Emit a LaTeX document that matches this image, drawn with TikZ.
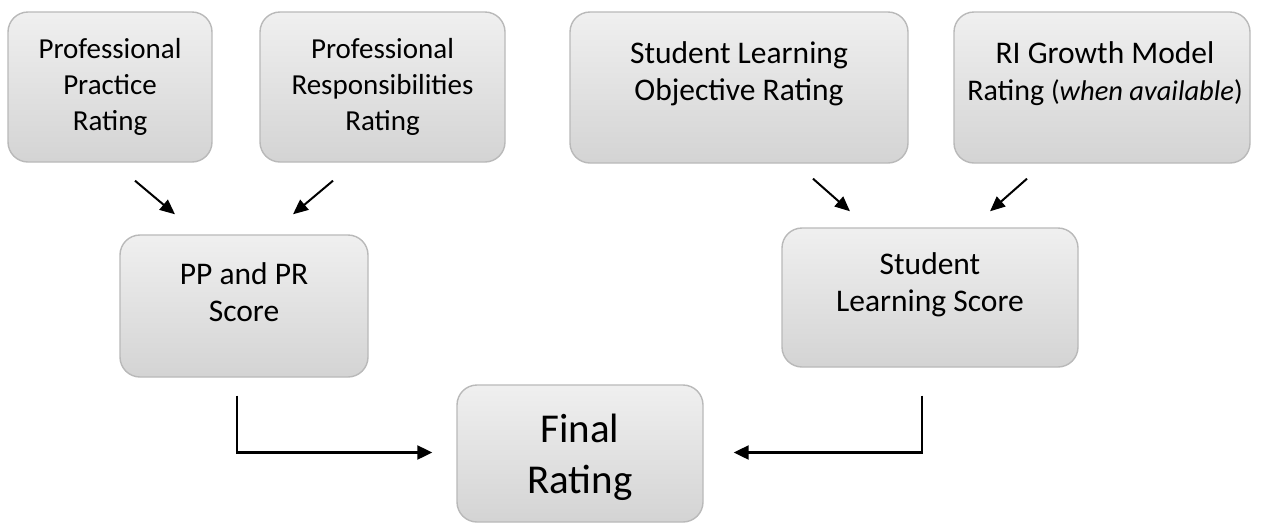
\documentclass[tikz,border=0pt]{standalone}
\usepackage{fontspec}
\setmainfont{Carlito}
\usetikzlibrary{arrows.meta,calc}
\newcommand{\fsA}{\fontsize{29}{36}\selectfont}
\newcommand{\fsB}{\fontsize{31.5}{37}\selectfont}
\newcommand{\fsD}{\fontsize{30}{37}\selectfont}
\newcommand{\fsE}{\fontsize{28.5}{37}\selectfont}
\newcommand{\fsC}{\fontsize{41}{51}\selectfont}
\tikzset{
  box/.style={draw=gray!55, line width=1.4pt, rounded corners=20pt, top color=gray!12, bottom color=gray!34, inner sep=0pt},
  lbl/.style={align=center, inner sep=0pt, text=black},
  arr/.style={line width=2.2pt, -{Triangle[length=15pt,width=14pt]}},
  darr/.style={line width=2pt, -{Triangle[length=15pt,width=13pt]}}
}
\begin{document}
\begin{tikzpicture}[x=1pt,y=-1pt]
\useasboundingbox (0,0) rectangle (1262,523);
% boxes
\node[box, minimum width=204pt, minimum height=150pt] (a) at (110,87) {};
\node[box, minimum width=245pt, minimum height=150pt] (b) at (382.5,87) {};
\node[box, minimum width=338pt, minimum height=151pt] (c) at (739,87.5) {};
\node[box, minimum width=296pt, minimum height=151pt] (d) at (1102,87.5) {};
\node[box, minimum width=248pt, minimum height=142pt] (e) at (244,306) {};
\node[box, minimum width=296pt, minimum height=139pt] (f) at (930,297.5) {};
\node[box, minimum width=246pt, minimum height=137pt] (g) at (580,453.5) {};
% labels
\node[lbl, font=\fsA] (ta) at (110,87) {Professional\\Practice\\Rating};
\node[lbl, font=\fsA] (tb) at (382.5,87) {Professional\\Responsibilities\\Rating};
\node[lbl, font=\fsB] (tc) at (739,74) {Student Learning\\Objective Rating};
\node[lbl, font=\fsB] (td) at (1105,74) {RI Growth Model\\{\fsD Rating {\fsE(\textit{when available})}}};
\node[lbl, font=\fsB] (te) at (244,292) {PP and PR\\Score};
\node[lbl, font=\fsB] (tf) at (930,285) {Student\\Learning Score};
\node[lbl, font=\fsC] (tg) at (580,457) {Final\\Rating};
% connectors
\draw[darr] ($(a.south)+(25,18)$) -- ($(e.north)+(-69,-20)$);
\draw[darr] ($(b.south)+(-49.5,18)$) -- ($(e.north)+(49,-20)$);
\draw[darr] ($(c.south)+(74,15)$) -- ($(f.north)+(-80,-16)$);
\draw[darr] ($(d.south)+(-75,15)$) -- ($(f.north)+(60,-16)$);
\draw[arr] ($(e.south)+(-7,18)$) |- ($(g.west)+(-24,-1)$);
\draw[arr] ($(f.south)+(-8,28)$) |- ($(g.east)+(30,-1)$);
\end{tikzpicture}
\end{document}
